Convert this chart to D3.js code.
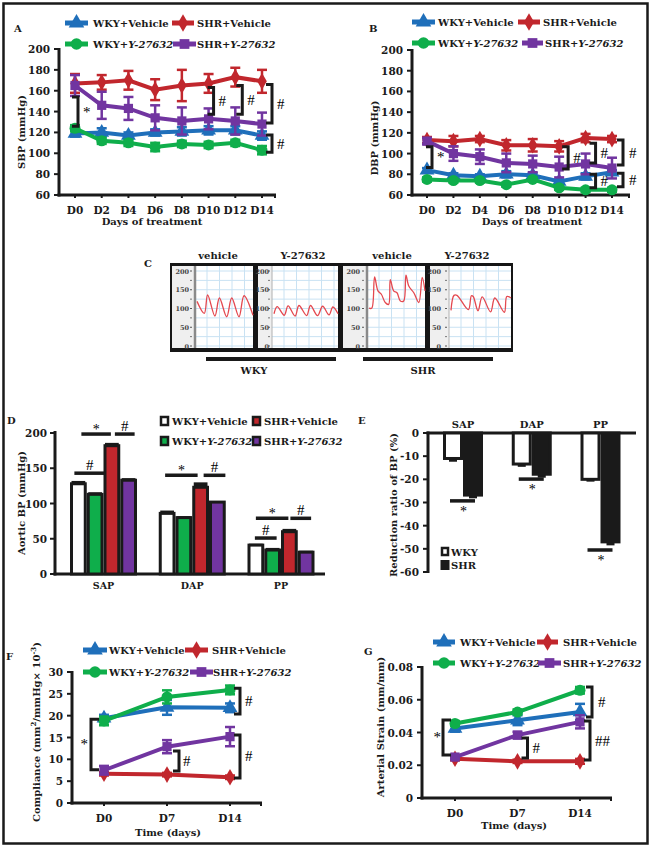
<!DOCTYPE html>
<html><head><meta charset="utf-8">
<script src="https://cdn.jsdelivr.net/npm/d3@7"></script>
<style>
body{margin:0;background:#fff}
svg{display:block}
text{font-family:"DejaVu Serif",serif;font-weight:bold;fill:#1a1a1a}
text.mk{font-family:"Liberation Serif",serif;font-weight:normal;fill:#000}
</style></head><body>
<svg id="c" width="651" height="848"></svg>
<script>
// ---------- DATA ----------
const seriesNames = ["WKY+Vehicle","SHR+Vehicle","WKY+Y-27632","SHR+Y-27632"];
const seriesColors = ["#1f6fba","#c1272d","#0fae4b","#7135a0"];
const days = ["D0","D2","D4","D6","D8","D10","D12","D14"];
const bpTicks = [60,80,100,120,140,160,180,200];

// Panel A: SBP
const sbpWkyVeh = [119,120,117,120,121,122,122,117];
const sbpWkyVehErr = [3,4,3,3,4,4,4,4];
const sbpShrVeh = [167,168,170,161,165,167,173,169];
const sbpShrVehErr = [9,7,9,10,15,9,9,11];
const sbpWkyY = [124,112,110,106,109,108,110,103];
const sbpWkyYErr = [3,3,3,4,3,3,3,4];
const sbpShrY = [165,146,143,134,131,133,131,128];
const sbpShrYErr = [10,13,11,12,13,10,13,11];

// Panel B: DBP
const dbpWkyVeh = [84,79,78,80,79,73,78,82];
const dbpWkyVehErr = [2,2,2,3,2,2,3,2];
const dbpShrVeh = [113,112,114,108,108,107,115,114];
const dbpShrVehErr = [3,5,3,5,6,5,4,3];
const dbpWkyY = [75,74,74,70,75,67,65,65];
const dbpWkyYErr = [2,2,2,2,2,2,2,2];
const dbpShrY = [112,100,97,91,90,87,90,86];
const dbpShrYErr = [3,7,7,9,8,10,10,10];

// Panel C: pressure traces (fraction of window, mmHg)
const traceLabels = ["vehicle","Y-27632","vehicle","Y-27632"];
const traceTicks = [0,50,100,150,200];
const tWkyVeh = [0,0.13,0.19,0.32,0.40,0.53,0.62,0.75,0.84,1.0];
const vWkyVeh = [119,87,136,80,128,78,128,78,134,82];
const tWkyY = [0,0.05,0.16,0.22,0.33,0.39,0.51,0.57,0.68,0.76,0.86,0.92,1.0];
const vWkyY = [86,105,82,107,80,108,81,108,81,106,83,104,86];
const tShrVeh = [0,0.05,0.10,0.16,0.22,0.29,0.35,0.38,0.44,0.50,0.56,0.62,0.66,0.71,0.80,0.89,0.95,1.0];
const vShrVeh = [101,101,184,147,138,116,111,177,147,142,120,120,189,160,142,116,183,147];
const tShrY = [0,0.05,0.10,0.29,0.34,0.37,0.45,0.52,0.66,0.73,0.89,0.93,1.0];
const vShrY = [95,135,135,97,134,132,94,131,91,128,90,132,128];
const strainGroups = ["WKY","SHR"];

// Panel D: aortic BP
const bpGroups = ["SAP","DAP","PP"];
const aorticWkyVeh = [128,86,41];
const aorticWkyVehErr = [4,4,2];
const aorticShrVeh = [182,123,60];
const aorticShrVehErr = [4,7,4];
const aorticWkyY = [113,80,34];
const aorticWkyYErr = [3,2,3];
const aorticShrY = [133,102,31];
const aorticShrYErr = [3,1.5,2];
const aorticTicks = [0,50,100,150,200];

// Panel E: reduction ratio
const redWky = [-11,-13.4,-20];
const redWkyErr = [1.4,1.2,1];
const redShr = [-26.8,-17.8,-47];
const redShrErr = [1.4,1.5,1.5];
const redTicks = [0,-10,-20,-30,-40,-50,-60];

// Panel F: compliance
const timepoints = ["D0","D7","D14"];
const compWkyVeh = [19.4,21.9,21.8];
const compWkyVehErr = [0.8,1.7,1];
const compShrVeh = [6.7,6.5,5.9];
const compShrVehErr = [0.4,0.4,0.4];
const compWkyY = [18.8,24.3,25.9];
const compWkyYErr = [1,1.5,1];
const compShrY = [7.5,12.9,15.2];
const compShrYErr = [1,1.5,2.2];
const compTicks = [0,5,10,15,20,25,30];

// Panel G: arterial strain
const strWkyVeh = [0.0425,0.0475,0.0525];
const strWkyVehErr = [0.002,0.003,0.005];
const strShrVeh = [0.0240,0.0224,0.0224];
const strShrVehErr = [0.001,0.001,0.0015];
const strWkyY = [0.0455,0.0525,0.0658];
const strWkyYErr = [0.0015,0.0015,0.002];
const strShrY = [0.0250,0.0384,0.0465];
const strShrYErr = [0.001,0.002,0.004];
const strTicks = [0,0.02,0.04,0.06,0.08];

// ---------- DRAW ----------
const svg = d3.select("#c");
svg.append("rect").attr("width",651).attr("height",848).attr("fill","#fff");
svg.append("rect").attr("x",3.5).attr("y",3.5).attr("width",644).attr("height",840)
  .attr("fill","none").attr("stroke","#1a1a1a").attr("stroke-width",2.5);

const symTypes = [d3.symbolTriangle, d3.symbolDiamond, d3.symbolCircle, d3.symbolSquare];
const symSizes = [95, 80, 95, 85];
const K = "#1a1a1a";

function txt(g, x, y, s, size, anchor){
  return g.append("text").attr("x",x).attr("y",y).attr("font-size",size)
    .attr("text-anchor",anchor||"start").text(s);
}
function mark(g, x, y, s, size, anchor){
  return g.append("text").attr("class","mk").attr("x",x).attr("y",y).attr("font-size",size+2)
    .attr("text-anchor",anchor||"start").text(s);
}
function labelWithItalic(g, x, y, s, size){
  const t = g.append("text").attr("x",x).attr("y",y).attr("font-size",size);
  const idx = s.indexOf("Y-27632");
  if (idx<0){ t.text(s); return t; }
  t.append("tspan").text(s.slice(0,idx));
  t.append("tspan").attr("font-style","italic").text("Y-27632");
  return t;
}
function bracket(g, x, y1, y2, dir, len){
  const l = len||6;
  g.append("path").attr("d",`M${x+dir*l},${y1}H${x}V${y2}H${x+dir*l}`)
    .attr("fill","none").attr("stroke",K).attr("stroke-width",3);
}
function lineLegend(g, entries){
  entries.forEach(e=>{
    g.append("line").attr("x1",e.x1).attr("x2",e.x2).attr("y1",e.y).attr("y2",e.y)
      .attr("stroke",seriesColors[e.i]).attr("stroke-width",5);
    g.append("path").attr("d",d3.symbol().type(symTypes[e.i]).size(symSizes[e.i]+10)())
      .attr("transform",`translate(${(e.x1+e.x2)/2},${e.y})`).attr("fill",seriesColors[e.i]);
    labelWithItalic(g, e.tx, e.y+4, seriesNames[e.i], 10);
  });
}

function lineChart(o){
  const g = svg.append("g");
  const x = d3.scalePoint().domain(o.cats).range(o.xr);
  const y = d3.scaleLinear().domain(o.yd).range(o.yr);
  const base = o.yr[0];
  g.append("line").attr("x1",o.ax).attr("x2",o.ax).attr("y1",o.yr[1]-1).attr("y2",base+1.5)
    .attr("stroke",K).attr("stroke-width",3);
  g.append("line").attr("x1",o.ax-1.5).attr("x2",o.axEnd).attr("y1",base).attr("y2",base)
    .attr("stroke",K).attr("stroke-width",3);
  g.append("line").attr("x1",o.axEnd-1).attr("x2",o.axEnd-1).attr("y1",base).attr("y2",base+3)
    .attr("stroke",K).attr("stroke-width",2);
  o.yticks.forEach(t=>{
    g.append("line").attr("x1",o.ax-5).attr("x2",o.ax).attr("y1",y(t)).attr("y2",y(t))
      .attr("stroke",K).attr("stroke-width",2);
    txt(g, o.ax-9, y(t)+4, o.fmt(t), 10.5, "end");
  });
  o.cats.forEach(c=>{
    g.append("line").attr("x1",x(c)).attr("x2",x(c)).attr("y1",base).attr("y2",base+3)
      .attr("stroke",K).attr("stroke-width",2);
    txt(g, x(c), o.xlabY, c, 10.5, "middle");
  });
  txt(g, o.xtitle[0], o.xtitle[1], o.xtitle[2], 10, "middle");
  const yt = g.append("text").attr("font-size",10).attr("text-anchor","middle")
    .attr("transform",`translate(${o.ytitle[0]},${o.ytitle[1]}) rotate(-90)`);
  if (typeof o.ytitle[2] === "string") yt.text(o.ytitle[2]);
  else o.ytitle[2].forEach(p=>{ const ts = yt.append("tspan").text(p.t); if(p.sup) ts.attr("font-size",7); if(p.dy) ts.attr("dy",p.dy); });
  const ln = d3.line().x((d,i)=>x(o.cats[i])).y(d=>y(d));
  o.series.forEach(s=>{
    const col = seriesColors[s.i];
    s.vals.forEach((v,i)=>{
      const e = s.errs[i];
      const cx = x(o.cats[i]);
      g.append("line").attr("x1",cx).attr("x2",cx).attr("y1",y(v-e)).attr("y2",y(v+e))
        .attr("stroke",col).attr("stroke-width",2.5);
      [v-e,v+e].forEach(w=>g.append("line").attr("x1",cx-5).attr("x2",cx+5).attr("y1",y(w)).attr("y2",y(w))
        .attr("stroke",col).attr("stroke-width",2.5));
    });
    g.append("path").datum(s.vals).attr("d",ln).attr("fill","none")
      .attr("stroke",col).attr("stroke-width",4);
    s.vals.forEach((v,i)=>{
      g.append("path").attr("d",d3.symbol().type(symTypes[s.i]).size(symSizes[s.i])())
        .attr("transform",`translate(${x(o.cats[i])},${y(v)})`).attr("fill",col);
    });
  });
  o.brackets.forEach(b=>{
    const bx = x(b.cat)+b.dx;
    bracket(g, bx, y(b.v1), y(b.v2), b.dir, b.len);
    const lx = b.lx!==undefined ? bx+b.lx : bx+5;
    mark(g, lx, (y(b.v1)+y(b.v2))/2+5, b.label, 13, b.anchor||"start");
  });
  lineLegend(g, o.legend);
  txt(g, o.panel[0], o.panel[1], o.panel[2], 10, "start");
}

// Panel A
lineChart({
  cats: days, xr:[75,262], yd:[60,200], yr:[195,49], ax:59, axEnd:276,
  yticks: bpTicks, fmt: d=>d, xlabY:214,
  xtitle:[152,225,"Days of treatment"], ytitle:[25,132,"SBP (mmHg)"],
  series:[
    {i:0, vals:sbpWkyVeh, errs:sbpWkyVehErr},
    {i:1, vals:sbpShrVeh, errs:sbpShrVehErr},
    {i:2, vals:sbpWkyY, errs:sbpWkyYErr},
    {i:3, vals:sbpShrY, errs:sbpShrYErr}],
  brackets:[
    {cat:"D0", dx:3, v1:154, v2:126, dir:-1, label:"*"},
    {cat:"D10", dx:5, v1:163, v2:137.5, dir:-1, label:"#"},
    {cat:"D12", dx:7, v1:165, v2:137.5, dir:-1, label:"#"},
    {cat:"D14", dx:10, v1:166, v2:129, dir:-1, label:"#"},
    {cat:"D14", dx:10, v1:117.5, v2:101, dir:-1, label:"#"}],
  legend:[
    {i:0,x1:65,x2:88,y:23,tx:93},{i:1,x1:172,x2:194,y:23,tx:197},
    {i:2,x1:65,x2:88,y:44,tx:93},{i:3,x1:173,x2:196,y:44,tx:197}],
  panel:[14,32,"A"]
});

// Panel B
lineChart({
  cats: days, xr:[427,612], yd:[60,200], yr:[195,50], ax:412, axEnd:630,
  yticks: bpTicks, fmt: d=>d, xlabY:214,
  xtitle:[532,225,"Days of treatment"], ytitle:[378,138,"DBP (mmHg)"],
  series:[
    {i:0, vals:dbpWkyVeh, errs:dbpWkyVehErr},
    {i:1, vals:dbpShrVeh, errs:dbpShrVehErr},
    {i:2, vals:dbpWkyY, errs:dbpWkyYErr},
    {i:3, vals:dbpShrY, errs:dbpShrYErr}],
  brackets:[
    {cat:"D0", dx:5, v1:106.5, v2:86.5, dir:-1, label:"*", lx:5},
    {cat:"D10", dx:9, v1:106.5, v2:85, dir:-1, label:"#"},
    {cat:"D12", dx:10, v1:110, v2:91, dir:-1, label:"#"},
    {cat:"D14", dx:11, v1:113, v2:89, dir:-1, label:"#", lx:6},
    {cat:"D12", dx:10, v1:80, v2:67, dir:-1, label:"#"},
    {cat:"D14", dx:11, v1:81, v2:68, dir:-1, label:"#", lx:6}],
  legend:[
    {i:0,x1:412,x2:435,y:22,tx:438},{i:1,x1:518,x2:540,y:22,tx:543},
    {i:2,x1:412,x2:435,y:43,tx:438},{i:3,x1:522,x2:543,y:43,tx:545}],
  panel:[369,32,"B"]
});

// Panel C
(function(){
  const g = svg.append("g");
  txt(g, 144, 267, "C", 10, "start");
  g.append("rect").attr("x",170).attr("y",263).attr("width",343).attr("height",89).attr("fill","#161616");
  const panels = [
    {x0:172,x1:253,ax:195,thick:true,t:tWkyVeh,v:vWkyVeh},
    {x0:258,x1:338,ax:272,thick:false,t:tWkyY,v:vWkyY},
    {x0:343,x1:425,ax:367,thick:true,t:tShrVeh,v:vShrVeh},
    {x0:430,x1:511,ax:449,thick:false,t:tShrY,v:vShrY}];
  const y = d3.scaleLinear().domain([0,200]).range([346,271]);
  const labX = [218,303,392,467];
  panels.forEach((p,k)=>{
    g.append("rect").attr("x",p.x0).attr("y",266).attr("width",p.x1-p.x0).attr("height",82).attr("fill","#fff");
    g.append("rect").attr("x",p.x0).attr("y",266).attr("width",p.ax-p.x0).attr("height",82).attr("fill","#efefef");
    for (let v=0; v<=225; v+=25){
      if (y(v) < 266) continue;
      g.append("line").attr("x1",p.ax).attr("x2",p.x1).attr("y1",y(v)).attr("y2",y(v))
        .attr("stroke","#c9e2f3").attr("stroke-width",1);
    }
    for (let gx=p.ax+12; gx<p.x1; gx+=12.5){
      g.append("line").attr("x1",gx).attr("x2",gx).attr("y1",266).attr("y2",348)
        .attr("stroke","#c9e2f3").attr("stroke-width",1);
    }
    g.append("line").attr("x1",p.ax).attr("x2",p.ax).attr("y1",266).attr("y2",348)
      .attr("stroke", p.thick?"#8a8a8a":"#b0b0b0").attr("stroke-width", p.thick?2.5:1);
    traceTicks.forEach(t=>{
      g.append("text").attr("x",p.x0+(p.thick?17:11)).attr("y",y(t)+2.5).attr("font-size",6.5)
        .attr("text-anchor","end").attr("font-family","DejaVu Sans").attr("font-weight","normal")
        .style("fill","#444").text(t);
      g.append("line").attr("x1",p.ax-(p.thick?5:4)).attr("x2",p.ax-(p.thick?3:2)).attr("y1",y(t)).attr("y2",y(t))
        .attr("stroke","#555").attr("stroke-width",1);
    });
    [25,75,125,175].forEach(t=>g.append("line").attr("x1",p.ax-(p.thick?5:4)).attr("x2",p.ax-(p.thick?3:2))
      .attr("y1",y(t)).attr("y2",y(t)).attr("stroke","#777").attr("stroke-width",1));
    const xs = d3.scaleLinear().domain([0,1]).range([p.ax+2,p.x1]);
    const pts = p.t.map((t,i)=>[xs(t), y(p.v[i])]);
    g.append("path").attr("d", d3.line().curve(d3.curveCatmullRom.alpha(0.5))(pts))
      .attr("fill","none").attr("stroke","#e4484f").attr("stroke-width",1.3);
    txt(g, labX[k], 259, traceLabels[k], 10, "middle");
  });
  g.append("rect").attr("x",206).attr("y",357).attr("width",130).attr("height",4).attr("fill",K);
  g.append("rect").attr("x",363).attr("y",357).attr("width",130).attr("height",4).attr("fill",K);
  txt(g, 254, 374, strainGroups[0], 10, "middle");
  txt(g, 423, 374, strainGroups[1], 10, "middle");
})();

// Panel D
(function(){
  const g = svg.append("g");
  const y = d3.scaleLinear().domain([0,200]).range([574,433]);
  const gx = d3.scalePoint().domain(bpGroups).range([103.5,281]);
  const inner = d3.scaleBand().domain(d3.range(4)).range([-33.5,33.5]);
  const vals = [aorticWkyVeh, aorticWkyY, aorticShrVeh, aorticShrY];
  const errs = [aorticWkyVehErr, aorticWkyYErr, aorticShrVehErr, aorticShrYErr];
  const fillMap = ["#ffffff", seriesColors[2], seriesColors[1], seriesColors[3]];
  g.append("line").attr("x1",55).attr("x2",55).attr("y1",431).attr("y2",575.5).attr("stroke",K).attr("stroke-width",3);
  g.append("line").attr("x1",53.5).attr("x2",325).attr("y1",574).attr("y2",574).attr("stroke",K).attr("stroke-width",3);
  aorticTicks.forEach(t=>{
    g.append("line").attr("x1",50).attr("x2",55).attr("y1",y(t)).attr("y2",y(t)).attr("stroke",K).attr("stroke-width",2);
    txt(g, 47, y(t)+4, t, 10.5, "end");
  });
  bpGroups.forEach((grp,gi)=>{
    txt(g, gx(grp), 589, grp, 9.5, "middle");
    for (let s=0;s<4;s++){
      const bx = gx(grp)+inner(s), bw = inner.bandwidth();
      const v = vals[s][gi], e = errs[s][gi];
      g.append("rect").attr("x",bx+1.5).attr("y",y(v+e)).attr("width",bw-3).attr("height",y(v)-y(v+e)).attr("fill",K);
      g.append("rect").attr("x",bx+1.5).attr("y",y(v)).attr("width",bw-3).attr("height",y(0)-y(v))
        .attr("fill",fillMap[s]).attr("stroke",K).attr("stroke-width",3);
    }
  });
  const sig = [
    {grp:"SAP", a:0, b:1, v:143, label:"#", l:-4, r:10},
    {grp:"SAP", a:0, b:2, v:198.5, label:"*", l:3, r:-1},
    {grp:"SAP", a:2, b:3, v:198.5, label:"#", l:3, r:6},
    {grp:"DAP", a:0, b:2, v:140, label:"*", l:-2, r:-3},
    {grp:"DAP", a:2, b:3, v:140, label:"#", l:3, r:8},
    {grp:"PP", a:0, b:2, v:79, label:"*", l:0, r:-1},
    {grp:"PP", a:2, b:3, v:79, label:"#", l:1, r:5},
    {grp:"PP", a:0, b:1, v:51, label:"#", l:-1, r:4}];
  sig.forEach(s=>{
    const c = i=>gx(s.grp)+inner(i)+inner.bandwidth()/2;
    const x1 = c(s.a)+s.l, x2 = c(s.b)+s.r;
    g.append("line").attr("x1",x1).attr("x2",x2).attr("y1",y(s.v)).attr("y2",y(s.v)).attr("stroke",K).attr("stroke-width",3.5);
    mark(g, (x1+x2)/2, y(s.v)-(s.label=="*"?0:3), s.label, s.label=="*"?12:13, "middle");
  });
  const leg = [{s:0,x:161,y:421},{s:1,x:253,y:421},{s:2,x:161,y:441},{s:3,x:253,y:441}];
  leg.forEach(l=>{
    const f = l.s===0?"#fff":seriesColors[l.s];
    g.append("rect").attr("x",l.x).attr("y",l.y-4).attr("width",7).attr("height",8).attr("fill",f).attr("stroke",K).attr("stroke-width",2.5);
    labelWithItalic(g, l.x+11, l.y+4, seriesNames[l.s], 10);
  });
  g.append("text").attr("font-size",10).attr("text-anchor","middle")
    .attr("transform","translate(25,503) rotate(-90)").text("Aortic BP (mmHg)");
  txt(g, 7, 424, "D", 10, "start");
})();

// Panel E
(function(){
  const g = svg.append("g");
  const y = d3.scaleLinear().domain([-60,0]).range([572,433]);
  const gx = d3.scalePoint().domain(bpGroups).range([463,600.5]);
  const inner = d3.scaleBand().domain([0,1]).range([-20,20]);
  g.append("line").attr("x1",428).attr("x2",428).attr("y1",431.5).attr("y2",573).attr("stroke",K).attr("stroke-width",3);
  g.append("line").attr("x1",426.5).attr("x2",636).attr("y1",433).attr("y2",433).attr("stroke",K).attr("stroke-width",3);
  redTicks.forEach(t=>{
    g.append("line").attr("x1",423).attr("x2",428).attr("y1",y(t)).attr("y2",y(t)).attr("stroke",K).attr("stroke-width",2);
    txt(g, 419, y(t)+4, t, 10.5, "end");
  });
  const vals=[redWky,redShr], errs=[redWkyErr,redShrErr];
  bpGroups.forEach((grp,gi)=>{
    txt(g, gx(grp), 428, grp, 10, "middle");
    for (let s=0;s<2;s++){
      const bx = gx(grp)+inner(s), bw = inner.bandwidth();
      const v = vals[s][gi], e = errs[s][gi];
      const cx = bx+bw/2;
      g.append("rect").attr("x",cx-4).attr("y",y(v)).attr("width",8).attr("height",y(v-e)-y(v)).attr("fill",K);
      g.append("rect").attr("x",bx+1.5).attr("y",y(0)).attr("width",bw-3).attr("height",y(v)-y(0))
        .attr("fill",s===0?"#fff":K).attr("stroke",K).attr("stroke-width",3);
    }
  });
  const sig = [{grp:"SAP", v:-29.3},{grp:"DAP", v:-19.9},{grp:"PP", v:-50.5}];
  sig.forEach(s=>{
    const x1 = gx(s.grp)+inner(0)+inner.bandwidth()/2-3, x2 = gx(s.grp)+inner(1)+inner.bandwidth()/2+2;
    g.append("line").attr("x1",x1).attr("x2",x2).attr("y1",y(s.v)).attr("y2",y(s.v)).attr("stroke",K).attr("stroke-width",3.5);
    mark(g, (x1+x2)/2+1, y(s.v)+15, "*", 12, "middle");
  });
  g.append("rect").attr("x",442).attr("y",548).attr("width",6).attr("height",7).attr("fill","#fff").attr("stroke",K).attr("stroke-width",2.5);
  g.append("rect").attr("x",440.5).attr("y",560).attr("width",9).attr("height",10).attr("fill",K);
  txt(g, 451, 556, strainGroups[0], 10, "start");
  txt(g, 451, 569, strainGroups[1], 10, "start");
  g.append("text").attr("font-size",10).attr("text-anchor","middle")
    .attr("transform","translate(397,505) rotate(-90)").text("Reduction ratio of BP (%)");
  txt(g, 358, 424, "E", 10, "start");
})();

// Panel F
lineChart({
  cats: timepoints, xr:[104,230], yd:[0,30], yr:[803,672], ax:72, axEnd:262,
  yticks: compTicks, fmt: d=>d, xlabY:822,
  xtitle:[168,836,"Time (days)"],
  ytitle:[40,732,[{t:"Compliance (mm"},{t:"2",sup:true,dy:-4},{t:"/mmHg× 10",dy:4},{t:"-3",sup:true,dy:-4},{t:")",dy:4}]],
  series:[
    {i:0, vals:compWkyVeh, errs:compWkyVehErr},
    {i:1, vals:compShrVeh, errs:compShrVehErr},
    {i:2, vals:compWkyY, errs:compWkyYErr},
    {i:3, vals:compShrY, errs:compShrYErr}],
  brackets:[
    {cat:"D0", dx:-13, v1:19.2, v2:7.6, dir:1, len:8, label:"*", lx:-3, anchor:"end"},
    {cat:"D14", dx:10, v1:26.3, v2:20.4, dir:-1, label:"#", lx:5},
    {cat:"D14", dx:10, v1:15.6, v2:5.7, dir:-1, label:"#", lx:5},
    {cat:"D7", dx:12, v1:11.9, v2:7.3, dir:-1, label:"#", lx:4}],
  legend:[
    {i:0,x1:83,x2:107,y:650,tx:109},{i:1,x1:185,x2:208,y:650,tx:212},
    {i:2,x1:83,x2:107,y:672,tx:109},{i:3,x1:190,x2:213,y:672,tx:213}],
  panel:[6,660,"F"]
});

// Panel G
lineChart({
  cats: timepoints, xr:[455,580], yd:[0,0.08], yr:[798,667], ax:422, axEnd:612,
  yticks: strTicks, fmt: d=>d===0?"0":d.toFixed(2), xlabY:817,
  xtitle:[514,829,"Time (days)"], ytitle:[384,727,"Arterial Strain (mm/mm)"],
  series:[
    {i:0, vals:strWkyVeh, errs:strWkyVehErr},
    {i:1, vals:strShrVeh, errs:strShrVehErr},
    {i:2, vals:strWkyY, errs:strWkyYErr},
    {i:3, vals:strShrY, errs:strShrYErr}],
  brackets:[
    {cat:"D0", dx:-12, v1:0.0476, v2:0.0263, dir:1, len:8, label:"*", lx:-2, anchor:"end"},
    {cat:"D14", dx:12, v1:0.0678, v2:0.0495, dir:-1, label:"#", lx:6},
    {cat:"D14", dx:10, v1:0.047, v2:0.0232, dir:-1, label:"##", lx:5},
    {cat:"D7", dx:10, v1:0.0366, v2:0.0244, dir:-1, label:"#", lx:5}],
  legend:[
    {i:0,x1:433,x2:455,y:642,tx:460},{i:1,x1:537,x2:558,y:642,tx:563},
    {i:2,x1:433,x2:455,y:663,tx:460},{i:3,x1:538,x2:561,y:663,tx:563}],
  panel:[364,655,"G"]
});
</script>
</body></html>
